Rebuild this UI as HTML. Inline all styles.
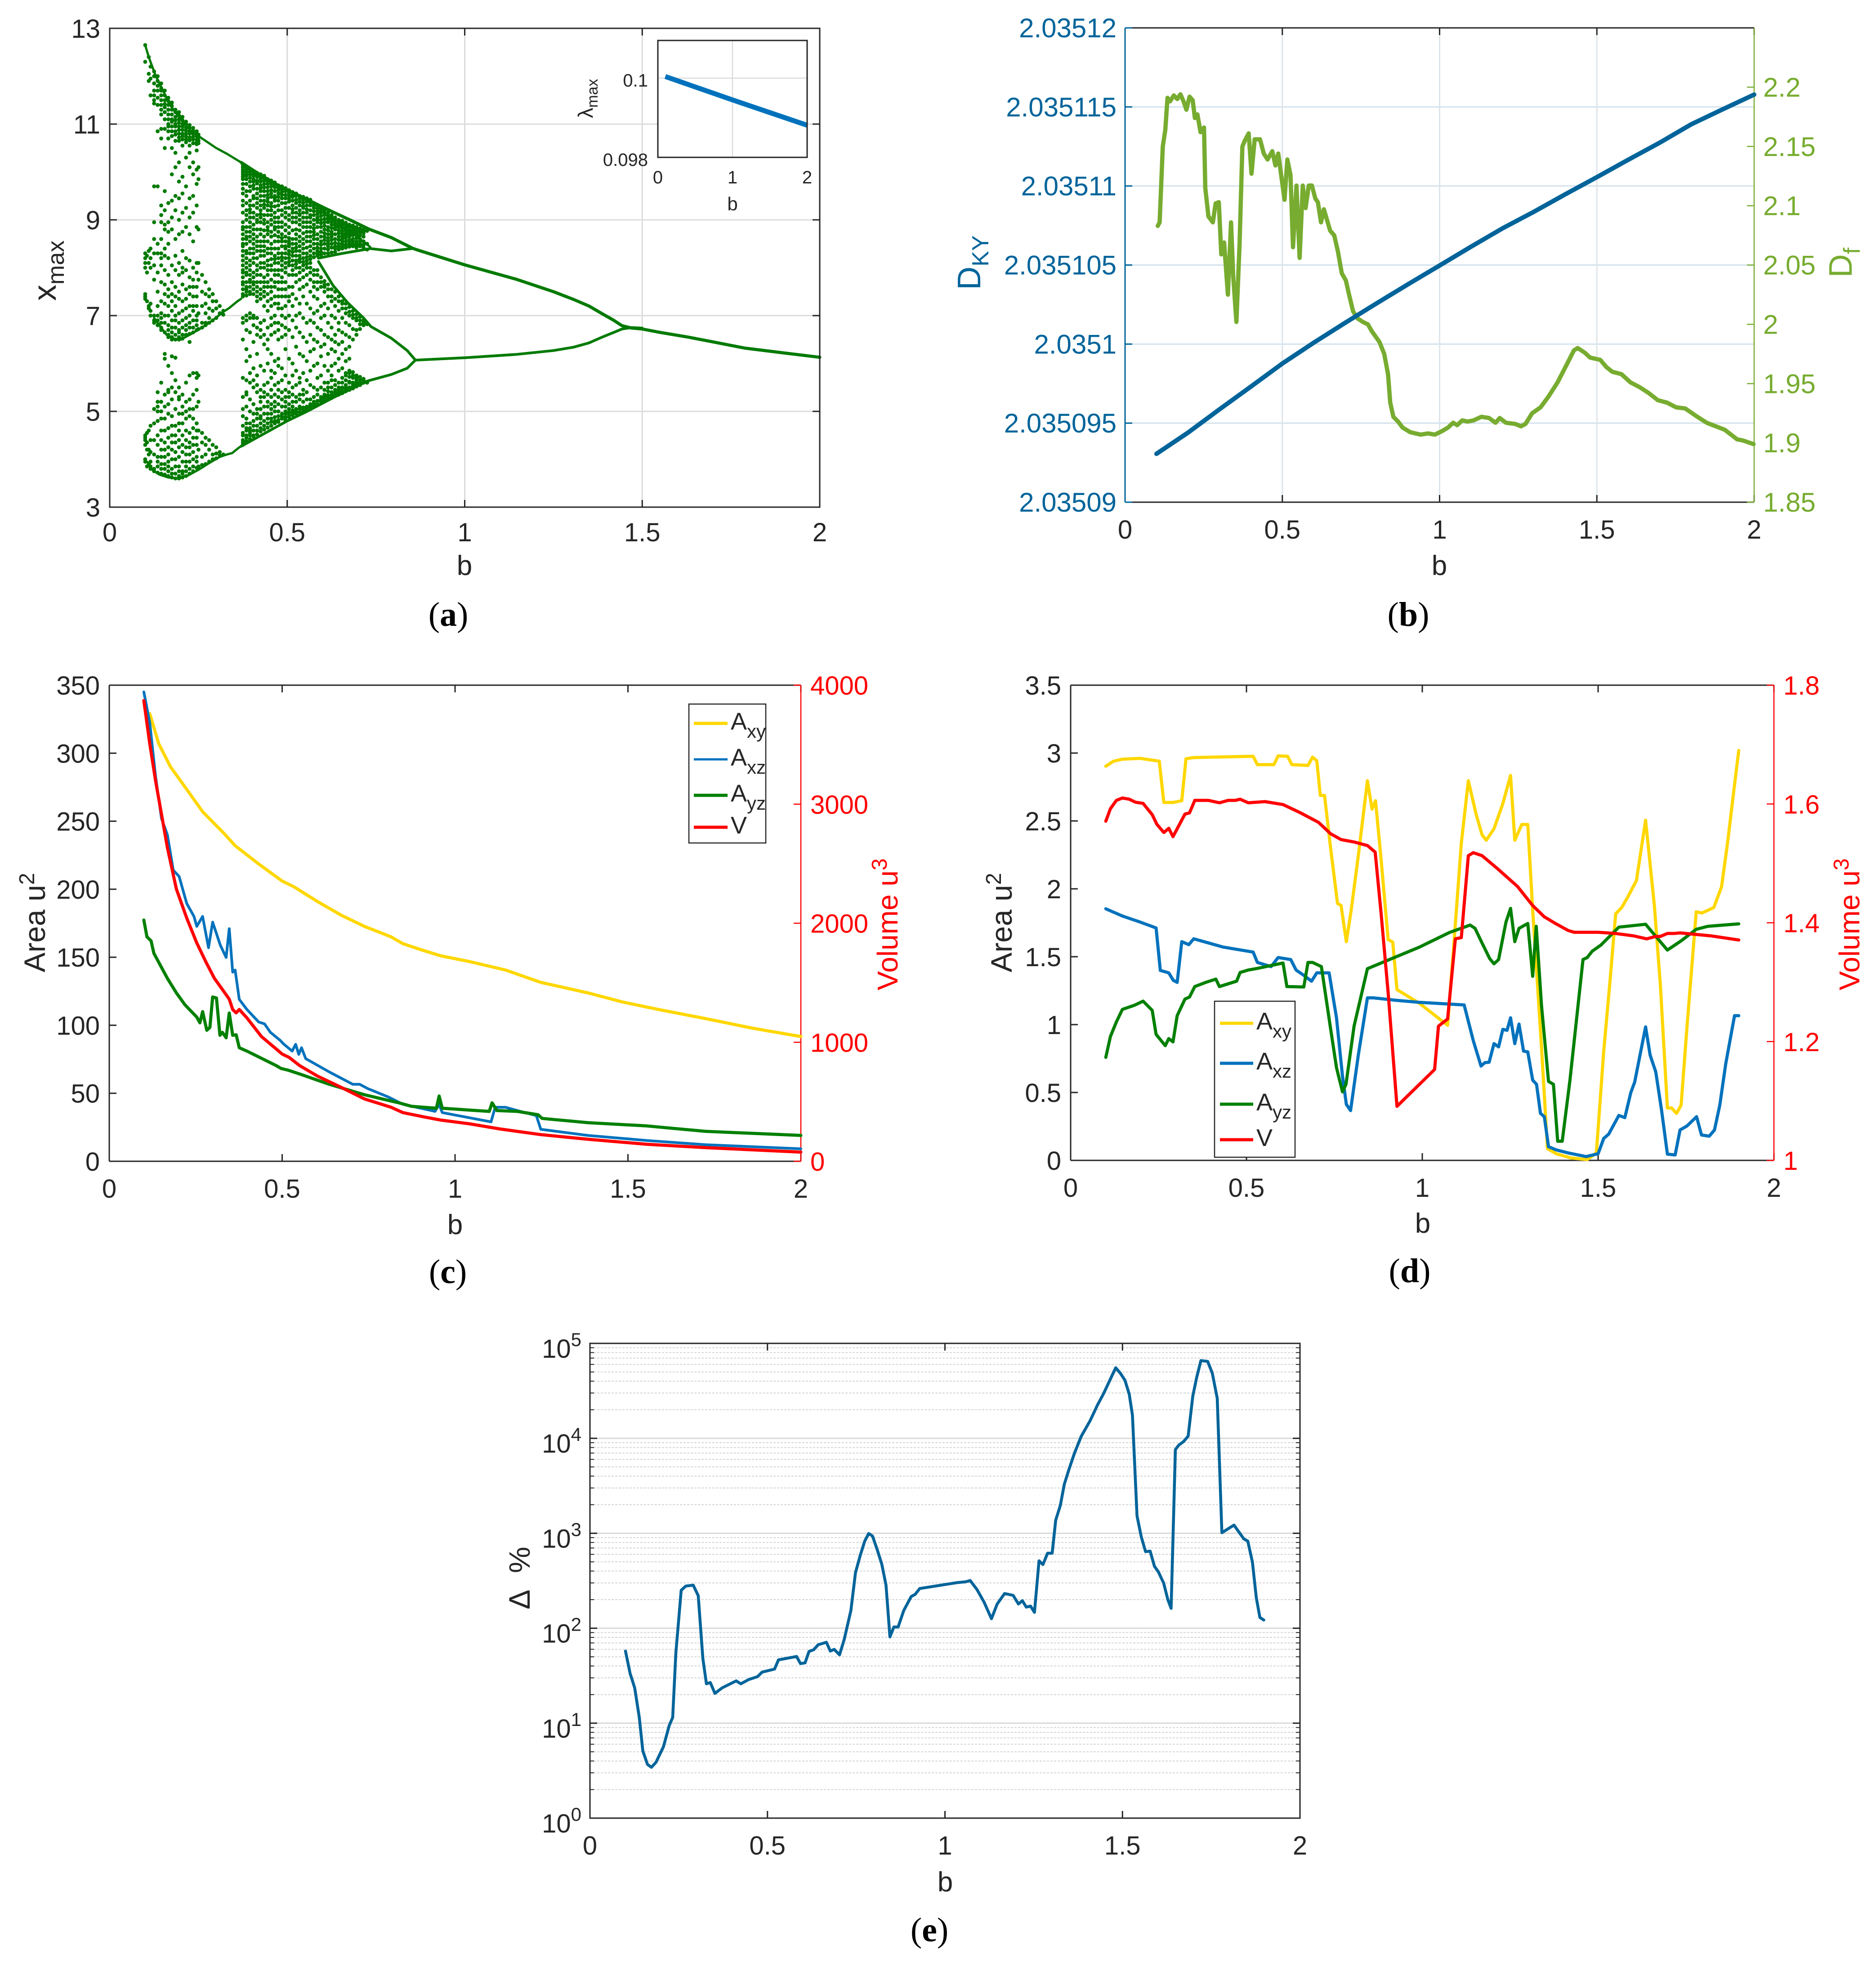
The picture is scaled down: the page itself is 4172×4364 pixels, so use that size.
<!DOCTYPE html>
<html lang="en">
<head>
<meta charset="utf-8">
<title>Dynamics charts panels a-e</title>
<style>
html,body{margin:0;padding:0;background:#fff;}
svg{display:block;font-family:"Liberation Sans",sans-serif;}
</style>
</head>
<body>
<svg id="fig" xmlns="http://www.w3.org/2000/svg" width="4172" height="4364" viewBox="0 0 4172 4364"></svg>
<script>
// ---------- Panel (a) data ----------
const aTicksX = [0, 0.5, 1, 1.5, 2];
const aTicksY = [3, 5, 7, 9, 11, 13];
const scatterB = [.10,.105,.11,.115,.125,.135,.145,.155,.165,.175,.185,.195,.205,.215,.225,.235,.245,.25,.26,.27,.28,.29,.30,.31,.32,
.375,.385,.395,.405,.415,.425,.435,.445,.455,.465,.475,.485,.495,.505,.515,.525,.535,.545,.555,.565,.575,.585,.595,.605,.615,.625,.635,.645,.655,.665,.675,.685,.695,.705,.715,.725];
const scatterX = [
[12.65,12.3,8.3,8.2,8.1,8.0,7.45,7.4,7.35,4.5,4.45,4.4,4.3,4.0,3.95],
[8.25,7.9,7.3,4.35,4.55],
[12.4,12.05,11.9,8.35,8.1,7.2,7.15,4.1,3.9,4.6,4.2],
[12.2,11.95,11.6,8.4,8.0,7.1,7.0,3.85,3.8,4.7,4.4,4.15],
[12.1,11.85,11.7,11.5,8.6,8.3,8.05,7.75,7.0,6.9,6.85,5.05,4.75,4.4,4.1,3.8,3.75],
[12.0,11.8,11.55,11.4,9.7,8.5,8.3,7.9,7.5,7.0,6.8,5.4,5.2,5.1,4.8,4.5,4.05,3.85,3.72],
[11.85,11.7,11.5,11.3,9.3,9.1,8.95,8.6,8.3,8.05,7.7,7.3,6.95,6.75,6.7,5.6,5.2,5.0,4.85,4.4,4.2,3.9,3.7],
[11.7,11.5,11.35,11.1,10.9,9.6,9.2,8.9,8.8,8.25,7.95,7.65,7.25,6.85,6.65,6.2,6.1,5.35,5.1,4.6,4.35,4.05,3.8,3.68],
[11.55,11.4,11.2,11.0,10.7,9.35,8.95,8.75,8.2,7.85,7.55,7.2,6.8,6.6,6.55,5.95,5.45,5.15,4.95,4.65,4.25,3.95,3.75,3.65],
[11.45,11.3,11.1,10.95,10.75,10.5,9.95,9.4,9.05,8.8,8.05,7.7,7.45,7.1,6.75,6.55,6.5,6.15,5.8,5.25,4.9,4.5,4.2,3.8,3.62],
[11.3,11.15,11.0,10.85,10.4,10.1,9.5,9.2,8.6,8.25,7.95,7.6,7.2,6.9,6.6,6.5,6.12,5.65,5.05,4.7,4.35,4.0,3.7,3.6],
[11.25,11.1,10.95,10.8,10.65,10.2,9.8,9.45,9.0,8.7,8.1,7.85,7.35,7.05,6.7,6.55,6.5,5.5,5.25,4.95,4.6,4.25,3.85,3.65,3.6],
[11.15,11.0,10.88,10.75,10.55,9.9,9.55,9.15,8.75,8.35,8.0,7.65,7.3,6.9,6.6,6.52,5.35,5.1,4.75,4.5,4.15,3.75,3.62],
[11.05,10.92,10.8,10.68,10.3,9.7,9.25,8.85,8.2,7.95,7.55,7.15,6.8,6.6,5.6,5.2,4.85,4.4,4.1,3.85,3.65],
[10.98,10.85,10.72,10.4,10.1,9.45,9.05,8.7,8.15,7.8,7.45,7.0,6.75,6.62,6.45,5.75,5.25,4.9,4.55,4.25,3.95,3.7],
[10.92,10.8,10.68,10.2,9.95,9.5,9.15,8.55,8.0,7.75,7.4,7.1,6.75,6.65,5.8,5.35,5.05,4.65,4.3,4.0,3.75],
[10.85,10.75,10.62,10.45,10.05,9.75,9.3,8.85,8.1,7.9,7.6,7.2,6.8,6.7,5.8,5.7,5.45,5.1,4.75,4.45,4.05,3.82],
[10.72,10.6,10.1,9.85,8.8,8.1,7.75,7.05,6.72,5.75,5.2,4.6,4.2,3.85],
[7.85,7.5,7.2,6.85,6.75,4.55,4.35,4.05,3.88],
[7.7,7.45,7.25,7.05,6.85,6.8,4.45,4.3,4.1,3.9],
[7.55,7.4,7.15,6.95,6.85,4.4,4.2,3.95],
[7.45,7.3,7.1,6.9,4.3,4.1,4.0],
[7.3,7.15,6.95,4.25,4.12,4.02],
[7.2,7.05,4.15,4.08],
[7.1,7.02,4.1],
[10.15,10.05,9.95,9.9,9.75,9.4,9.3,9.15,8.95,8.7,8.6,8.45,8.25,8.15,7.95,7.8,7.65,7.45,7.4,6.95,6.85,6.5,5.7,5.3,5.05,4.9,4.55,4.4,4.35],
[10.1,10.0,9.92,9.85,9.6,9.35,9.2,9.0,8.85,8.65,8.5,8.35,8.2,8.0,7.85,7.7,7.55,7.42,7.0,6.9,6.3,6.05,5.65,5.35,5.1,4.85,4.65,4.5,4.38],
[10.05,9.95,9.88,9.7,9.4,9.22,9.05,8.95,8.75,8.55,8.3,8.15,7.95,7.75,7.6,7.5,7.05,6.65,6.15,5.6,5.25,5.0,4.75,4.55,4.42],
[10.0,9.92,9.8,9.65,9.3,9.15,8.9,8.7,8.5,8.4,8.1,7.9,7.65,7.55,7.45,7.0,6.8,6.45,5.9,5.5,5.15,4.95,4.7,4.5,4.47],
[9.98,9.9,9.82,9.55,9.35,9.1,8.95,8.55,8.35,8.2,7.95,7.7,7.5,7.3,6.95,6.6,6.2,5.75,5.4,5.05,4.85,4.6,4.52],
[9.95,9.86,9.72,9.6,9.4,9.2,9.05,8.8,8.45,8.25,8.0,7.85,7.55,7.35,6.85,6.55,5.95,5.45,5.2,4.9,4.75,4.58],
[9.92,9.82,9.68,9.5,9.25,9.0,8.65,8.55,8.35,8.1,7.8,7.6,7.4,7.2,6.9,6.4,5.85,5.55,5.3,4.95,4.8,4.62],
[9.85,9.75,9.6,9.45,9.3,9.1,8.85,8.7,8.4,8.15,7.95,7.7,7.45,7.1,6.75,6.3,6.0,5.6,5.35,5.1,4.85,4.66],
[9.82,9.7,9.55,9.35,9.2,9.0,8.75,8.5,8.3,8.05,7.75,7.5,7.2,6.95,6.6,6.2,5.7,5.45,5.15,4.95,4.7],
[9.78,9.68,9.5,9.4,9.15,8.95,8.8,8.55,8.25,8.1,7.85,7.6,7.25,7.0,6.65,6.05,5.8,5.55,5.2,5.0,4.75],
[9.72,9.62,9.48,9.3,9.05,8.85,8.65,8.4,8.2,7.95,7.7,7.4,7.15,6.85,6.5,6.1,5.95,5.6,5.3,5.0,4.78],
[9.7,9.58,9.45,9.2,8.95,8.7,8.55,8.3,8.15,8.05,7.8,7.55,7.15,6.8,6.55,5.9,5.65,5.25,4.95,4.85],
[9.66,9.52,9.35,9.15,8.9,8.65,8.45,8.3,8.1,7.9,7.55,7.2,6.95,6.6,6.3,5.75,5.45,5.1,4.95,4.82],
[9.62,9.5,9.38,9.1,8.85,8.55,8.45,8.35,8.2,8.05,7.6,7.3,7.0,6.7,6.1,5.6,5.4,5.15,4.98,4.88],
[9.58,9.48,9.3,9.15,8.95,8.6,8.4,8.25,8.05,7.85,7.45,7.2,6.9,6.55,6.0,5.75,5.5,5.2,5.02,4.92],
[9.55,9.42,9.25,9.05,8.8,8.7,8.5,8.35,8.15,8.0,7.7,7.35,7.0,6.75,6.35,5.85,5.55,5.3,5.05,4.95],
[9.5,9.38,9.2,9.1,8.9,8.65,8.45,8.25,8.12,7.9,7.55,7.25,7.05,6.65,6.2,5.7,5.6,5.35,5.1,4.98],
[9.48,9.35,9.25,9.05,8.85,8.6,8.4,8.2,8.05,7.8,7.6,7.4,6.95,6.55,6.15,5.8,5.45,5.2,5.0],
[9.45,9.3,9.15,8.95,8.75,8.55,8.3,8.15,8.0,7.85,7.65,7.25,6.85,6.45,6.05,5.65,5.4,5.1,5.02],
[9.42,9.3,9.2,9.05,8.85,8.65,8.45,8.25,8.18,8.0,7.75,7.5,7.15,6.9,6.6,6.25,5.85,5.55,5.25,5.08],
[9.35,9.25,9.1,8.9,8.75,8.6,8.4,8.22,7.95,7.7,7.4,7.05,6.85,6.5,6.3,5.95,5.5,5.3,5.12],
[9.3,9.18,9.05,8.95,8.7,8.5,8.35,8.25,7.85,7.55,7.35,7.1,6.75,6.45,6.0,5.7,5.45,5.15],
[9.24,9.15,9.0,8.85,8.75,8.55,8.4,8.27,7.8,7.6,7.2,6.95,6.7,6.35,6.15,5.75,5.5,5.2],
[9.2,9.1,8.95,8.8,8.65,8.5,8.3,7.72,7.5,7.25,7.0,6.6,6.4,5.95,5.6,5.35,5.22],
[9.15,9.05,8.95,8.85,8.7,8.55,8.45,8.3,7.65,7.4,7.15,6.85,6.55,6.2,5.85,5.6,5.42,5.25],
[9.1,9.02,8.9,8.75,8.65,8.5,8.32,7.55,7.3,7.0,6.75,6.5,6.3,5.95,5.75,5.5,5.28],
[9.05,8.98,8.88,8.8,8.6,8.45,8.33,7.5,7.2,6.95,6.6,6.45,6.25,6.0,5.65,5.45,5.32],
[9.0,8.92,8.85,8.72,8.65,8.5,8.38,7.4,7.1,6.85,6.7,6.4,6.1,5.85,5.6,5.4,5.35],
[8.98,8.9,8.82,8.7,8.6,8.5,8.4,7.3,7.15,6.95,6.65,6.45,6.2,5.9,5.7,5.5,5.38],
[8.94,8.85,8.78,8.68,8.55,8.42,7.25,7.05,6.85,6.6,6.3,6.05,5.8,5.65,5.55,5.42],
[8.9,8.84,8.75,8.65,8.52,8.44,7.18,7.0,6.8,6.55,6.35,6.1,5.85,5.72,5.6,5.45],
[8.88,8.8,8.72,8.6,8.5,7.1,6.95,6.72,6.5,5.82,5.7,5.6,5.48],
[8.85,8.77,8.68,8.55,8.47,7.03,6.9,6.7,6.6,5.75,5.65,5.52],
[8.82,8.68,8.6,8.45,6.98,6.82,6.72,5.72,5.6,5.55],
[8.8,8.65,8.55,8.42,6.9,6.8,5.68,5.6],
[8.77,8.5,8.38,6.82,5.62,5.6]
];
const scatterExtraB = [.105,.115,.125,.135,.145,.155,.165,.175,.185,.195,.205,.215,.225,.235,.245,.25,
.375,.385,.395,.405,.415,.425,.435,.445,.455,.465,.475,.485,.495,.505,.515,.525,.535,.545,.555,.565,.575,.585,.595,.605,.615,.625,.635,.645,.655,.665,.675,.685,.695,.705,.715];
const scatterExtraX = [
[4.2,3.85],
[8.2,7.25,3.95],
[12.0,11.6,11.43,9.7,8.95],
[11.9,11.7,10.85,7.2,6.9,5.0,4.3,3.95],
[11.75,11.6,11.4,11.2,10.9,10.7,8.2,7.05,6.85,4.6,4.05,3.8],
[11.6,11.42,11.25,10.5,8.4,7.45,7.0,4.85,4.2,3.9],
[11.48,11.3,11.1,10.95,10.85,8.5,7.4,7.0,6.7,5.4,4.45,4.1,3.85],
[11.38,11.2,11.05,10.85,7.3,6.9,6.65,5.5,4.7,4.35,4.0,3.7],
[11.25,11.08,10.95,10.78,10.65,7.4,7.0,6.75,5.4,4.5,4.15,3.85],
[11.18,11.03,10.88,10.72,7.5,6.85,6.65,5.3,4.75,4.4,4.05,3.75],
[11.08,10.95,10.8,10.68,7.9,7.1,6.75,4.95,4.3,3.95,3.7],
[11.0,10.86,10.74,10.62,7.35,6.95,6.7,5.0,4.6,4.25,3.95,3.75],
[10.92,10.8,10.66,10.55,7.6,7.2,6.85,5.05,4.35,4.1,3.8],
[10.86,10.74,10.6,7.6,7.2,6.9,4.85,4.45,4.15,3.85],
[10.8,10.68,10.58,7.4,7.0,6.9,4.6,4.3,3.95],
[10.78,10.66],
[10.1,10.0,9.85,9.65,9.55,8.85,8.8,8.5,8.35,8.05,7.9,7.7,7.55,4.7,4.5,4.3],
[10.05,9.95,9.75,9.5,9.1,8.75,8.6,8.3,8.1,7.9,7.6,7.5,6.7,5.4,4.75,4.6,4.45],
[10.0,9.8,9.6,9.3,9.15,8.85,8.65,8.4,8.05,7.85,7.7,7.45,6.95,5.8,4.65,4.5,4.6],
[9.95,9.85,9.72,9.5,9.45,9.05,8.8,8.6,8.3,8.2,7.8,7.7,6.95,5.65,4.8,4.6],
[9.94,9.76,9.65,9.45,9.25,9.0,8.8,8.65,8.45,8.05,7.85,7.6,7.4,6.75,5.55,4.95,4.7],
[9.9,9.8,9.66,9.5,9.3,9.12,8.95,8.7,8.55,8.35,8.1,7.7,7.45,6.7,5.3,5.05,4.85,4.65],
[9.88,9.75,9.6,9.4,9.32,9.1,8.92,8.78,8.45,8.25,8.0,7.7,7.5,6.6,5.4,5.1,4.7],
[9.8,9.68,9.52,9.38,9.2,8.95,8.78,8.55,8.3,8.05,7.85,7.6,7.3,6.5,5.2,4.95,4.75],
[9.76,9.62,9.48,9.28,9.1,8.9,8.65,8.4,8.18,7.95,7.6,7.35,6.8,5.85,5.3,5.05,4.85,4.78],
[9.73,9.6,9.45,9.28,9.05,8.85,8.68,8.4,8.18,7.95,7.7,7.4,6.85,5.35,5.1,4.88,4.8],
[9.67,9.55,9.4,9.2,8.95,8.75,8.55,8.3,8.1,7.85,7.55,7.25,6.7,5.45,5.15,4.9,4.82],
[9.64,9.52,9.35,9.1,8.85,8.62,8.45,8.22,7.95,7.7,7.4,7.0,5.4,5.1,4.9],
[9.6,9.45,9.25,9.05,8.78,8.55,8.4,8.2,8.0,7.7,7.4,6.75,5.3,5.2,5.0,4.88],
[9.56,9.44,9.25,9.0,8.72,8.62,8.5,8.28,8.12,7.85,7.4,5.3,5.05,4.92],
[9.52,9.4,9.22,9.05,8.78,8.5,8.33,8.15,7.95,7.6,5.35,5.1,4.97],
[9.5,9.35,9.15,8.95,8.6,8.42,8.25,8.08,7.85,5.2,5.0],
[9.45,9.3,9.12,9.0,8.78,8.55,8.35,8.18,8.0,7.75,5.25,5.05],
[9.42,9.28,9.15,8.95,8.72,8.5,8.3,8.12,7.95,5.35,5.08,5.02],
[9.38,9.22,9.05,8.85,8.65,8.42,8.22,8.08,5.25,5.05],
[9.36,9.1,8.95,8.75,8.55,8.35,8.1,7.9,5.15,5.12],
[9.3,9.18,9.0,8.82,8.68,8.5,8.3,7.85,7.6,5.2,5.18],
[9.24,9.12,9.0,8.85,8.6,8.42,8.3,7.95,7.7,5.35,5.22],
[9.2,9.08,8.93,8.65,8.48,8.33,7.7,5.3,5.25],
[9.15,9.02,8.88,8.72,8.58,8.4,7.65,7.6,5.45,5.32,5.28],
[9.1,9.0,8.78,8.62,8.5,8.38,7.55,5.5,5.34,5.3],
[9.06,8.96,8.83,8.7,8.58,8.42,7.4,5.65,5.4,5.34],
[9.0,8.92,8.83,8.7,8.52,8.4,7.35,5.55,5.4,5.36],
[8.96,8.88,8.78,8.58,8.44,7.3,5.5,5.45,5.4],
[8.93,8.85,8.76,8.65,8.55,8.45,7.25,5.6,5.48,5.42],
[8.9,8.82,8.72,8.62,8.48,7.15,5.75,5.5,5.46],
[8.87,8.78,8.7,8.58,8.48,7.08,5.8,5.62,5.5],
[8.84,8.76,8.68,8.55,8.45,7.02,5.75,5.55,5.52],
[8.82,8.72,8.62,8.5,8.42,6.95,5.7,5.6,5.56],
[8.78,8.74,8.55,8.5,6.9,5.66,5.6],
[8.76,8.72,8.48,6.85,5.64]
];
const branchTop1B = [.10,.11,.12,.13,.14,.15,.17,.19,.21,.23,.25,.27,.30,.33,.37];
const branchTop1X = [12.65,12.4,12.2,12.0,11.85,11.7,11.4,11.2,11.0,10.85,10.75,10.65,10.5,10.38,10.2];
const branchLobeLowB = [.125,.14,.16,.18,.2,.23,.26,.29,.32,.335,.36,.37];
const branchLobeLowX = [6.95,6.8,6.6,6.52,6.5,6.62,6.75,6.9,7.08,7.15,7.3,7.35];
const branchBottomB = [.105,.12,.14,.165,.19,.22,.25,.28,.31,.33,.345,.365,.37];
const branchBottomX = [3.95,3.78,3.68,3.62,3.6,3.66,3.78,3.92,4.05,4.1,4.13,4.25,4.27];
const branchTop2B = [.37,.42,.474,.542,.611,.679,.729,.793,.852,.863,1,1.145,1.25,1.306,1.35,1.387,1.42,1.443,1.47,1.5,1.55,1.63,1.7,1.79,1.9,2];
const branchTop2X = [10.2,9.96,9.72,9.475,9.226,8.99,8.81,8.63,8.41,8.38,8.06,7.76,7.5,7.34,7.2,7.04,6.9,6.79,6.74,6.72,6.65,6.55,6.45,6.32,6.22,6.13];
const branchLoopInnerB = [.588,.656,.734,.793,.852];
const branchLoopInnerX = [8.2,8.3,8.4,8.35,8.4];
const branchLoopWedgeB = [.679,.734];
const branchLoopWedgeX = [8.76,8.43];
const branchLowerB = [.588,.629,.67,.715,.736,.793,.838,.861,1,1.145,1.25,1.306,1.35,1.387,1.42,1.443,1.47,1.5];
const branchLowerX = [8.13,7.63,7.27,6.95,6.77,6.53,6.27,6.07,6.12,6.19,6.27,6.34,6.43,6.55,6.65,6.72,6.75,6.74];
const branchBottom2B = [.37,.5,.556,.633,.729,.793,.838,.861];
const branchBottom2X = [4.27,4.8,5.0,5.3,5.64,5.77,5.9,6.07];
const insetB = [0.1, 1, 2];
const insetLambda = [0.10004, 0.09945, 0.09881];
const insetTicksX = [0, 1, 2];
const insetTicksY = [0.098, 0.1];

// ---------- Panel (b) data ----------
const bTicksX = [0, 0.5, 1, 1.5, 2];
const bTicksLeft = [2.03509, 2.035095, 2.0351, 2.035105, 2.03511, 2.035115, 2.03512];
const bTicksLeftLabels = ["2.03509","2.035095","2.0351","2.035105","2.03511","2.035115","2.03512"];
const bTicksRight = [1.85, 1.9, 1.95, 2, 2.05, 2.1, 2.15, 2.2];
const dkyB = [.1,.2,.3,.4,.5,.6,.7,.8,.9,1,1.1,1.2,1.3,1.4,1.5,1.6,1.7,1.8,1.9,2];
const dkyValues = [2.03509306,2.0350944,2.03509587,2.03509731,2.03509877,2.03510009,2.03510135,2.03510258,2.03510379,2.03510497,2.03510616,2.03510732,2.03510837,2.03510948,2.03511056,2.03511166,2.03511274,2.0351139,2.03511485,2.03511578];
const dfB = [.104,.11,.12,.128,.135,.143,.155,.166,.176,.186,.195,.205,.215,.222,.23,.24,.251,.255,.265,.279,.288,.298,.306,.315,.327,.337,.344,.354,.364,.373,.381,.393,.402,.412,.429,.441,.453,.468,.478,.487,.507,.516,.526,.534,.545,.555,.565,.574,.584,.594,.605,.613,.623,.632,.652,.665,.677,.689,.702,.714,.725,.739,.756,.772,.785,.809,.824,.836,.843,.853,.868,.882,.907,.94,.963,.985,1.008,1.027,1.043,1.056,1.072,1.089,1.108,1.133,1.157,1.178,1.191,1.211,1.24,1.259,1.273,1.294,1.321,1.346,1.375,1.404,1.427,1.439,1.462,1.478,1.511,1.53,1.549,1.578,1.607,1.636,1.665,1.694,1.723,1.752,1.781,1.814,1.849,1.878,1.907,1.946,1.965,1.998];
const dfValues = [2.083,2.086,2.15,2.164,2.191,2.188,2.193,2.19,2.194,2.188,2.181,2.192,2.189,2.174,2.177,2.162,2.166,2.115,2.091,2.086,2.102,2.103,2.059,2.069,2.025,2.086,2.04,2.002,2.067,2.15,2.155,2.161,2.127,2.156,2.156,2.144,2.139,2.146,2.134,2.144,2.105,2.139,2.126,2.065,2.117,2.056,2.117,2.098,2.117,2.117,2.106,2.103,2.086,2.097,2.079,2.075,2.061,2.043,2.037,2.023,2.011,2.005,2.002,2,1.994,1.985,1.975,1.958,1.934,1.922,1.918,1.913,1.909,1.907,1.908,1.907,1.91,1.913,1.917,1.915,1.919,1.918,1.919,1.922,1.921,1.917,1.921,1.917,1.916,1.914,1.916,1.925,1.93,1.939,1.951,1.966,1.978,1.98,1.976,1.972,1.97,1.964,1.96,1.958,1.951,1.947,1.942,1.936,1.934,1.93,1.929,1.923,1.917,1.914,1.911,1.903,1.902,1.899];

// ---------- Panel (c) data ----------
const cTicksX = [0, 0.5, 1, 1.5, 2];
const cTicksLeft = [0, 50, 100, 150, 200, 250, 300, 350];
const cTicksRight = [0, 1000, 2000, 3000, 4000];
const cAxyB = [.117,.143,.177,.228,.27,.33,.364,.432,.5,.534,.602,.67,.738,.815,.849,.908,.959,1.044,1.146,1.248,1.384,1.486,1.588,1.724,1.861,2];
const cAxyValues = [329,307,290,272,257,241.5,232,218.6,206,201.8,191,181,172.7,165,160,155,151,146.7,140.6,131.5,123.8,117,111.6,104.9,97.8,91.7];
const cAxzB = [.1,.117,.134,.151,.168,.185,.202,.224,.245,.253,.27,.287,.299,.321,.338,.347,.357,.364,.376,.398,.432,.449,.466,.495,.503,.529,.539,.548,.556,.568,.636,.704,.724,.747,.806,.849,.942,.954,.963,1.104,1.116,1.146,1.189,1.235,1.248,1.384,1.554,1.724,2];
const cAxzValues = [345,322.5,282.8,252,240,214,209.4,189.5,180,172.7,180,157,175.8,159,149.8,171,139,140.6,119,111.6,102.4,101,94.8,88.7,86.5,81,86,78.6,83.5,75.5,65.7,56.6,56.6,53.5,47.4,41.9,36.7,41.9,35.8,29,39.7,39.7,36.7,33.6,23.5,19,15.3,12.2,9.2];
const cAyzB = [.1,.109,.121,.129,.168,.194,.219,.253,.262,.27,.282,.291,.299,.31,.32,.327,.338,.347,.357,.367,.376,.398,.483,.497,.517,.554,.636,.738,.84,.874,.946,.954,.963,1.044,1.099,1.107,1.121,1.18,1.24,1.252,1.384,1.554,1.724,2];
const cAyzValues = [177.3,165,162,152.9,134.5,123.8,115,106,101.8,110,96.3,98.4,120.8,120,92.6,94.8,90.8,109,92.6,93,83.5,81,70.3,68.2,67,63.9,56.6,48.9,42.8,40.4,39,48,39,37.6,36.7,43,37.3,36.7,34.2,31.5,28.4,26,22,19];
const cVB = [.1,.117,.134,.151,.168,.194,.224,.253,.279,.304,.33,.347,.357,.367,.376,.398,.44,.483,.5,.52,.551,.602,.67,.738,.815,.849,.908,.959,1.044,1.129,1.248,1.384,1.554,1.724,2];
const cVValues = [3870,3510,3196,2917,2637,2288,2043,1834,1677,1537,1432,1362,1275,1247,1275,1205,1048,943,901,873,803,716,622,524,454,409,374,346,314,272,224,185,143,115,77];

// ---------- Panel (d) data ----------
const dTicksX = [0, 0.5, 1, 1.5, 2];
const dTicksLeft = [0, 0.5, 1, 1.5, 2, 2.5, 3, 3.5];
const dTicksRight = [1, 1.2, 1.4, 1.6, 1.8];
const dAxyB = [.1,.122,.147,.198,.252,.265,.291,.316,.328,.35,.451,.519,.531,.578,.59,.617,.629,.675,.688,.7,.71,.722,.739,.759,.769,.784,.798,.818,.844,.857,.867,.883,.903,.916,.928,.992,1.072,1.09,1.111,1.131,1.153,1.17,1.182,1.204,1.229,1.251,1.263,1.283,1.3,1.314,1.339,1.356,1.381,1.423,1.469,1.495,1.516,1.533,1.55,1.567,1.584,1.609,1.635,1.66,1.677,1.697,1.709,1.723,1.736,1.753,1.779,1.795,1.829,1.851,1.868,1.885,1.9];
const dAxyValues = [2.903,2.94,2.955,2.961,2.94,2.636,2.636,2.649,2.958,2.967,2.973,2.976,2.915,2.915,2.979,2.976,2.915,2.909,2.97,2.943,2.688,2.688,2.306,1.892,1.877,1.611,1.846,2.244,2.796,2.587,2.649,2.214,1.626,1.608,1.258,1.157,.995,1.601,2.336,2.796,2.551,2.398,2.358,2.443,2.627,2.835,2.358,2.474,2.474,1.846,.836,.086,.049,.018,.006,.055,.805,1.295,1.816,1.862,1.938,2.061,2.505,1.877,1.295,.386,.386,.346,.407,.989,1.831,1.822,1.862,2.015,2.336,2.704,3.019];
const dAxzB = [.1,.147,.198,.243,.255,.279,.292,.303,.316,.336,.35,.434,.519,.531,.57,.59,.626,.641,.663,.685,.7,.735,.756,.773,.784,.796,.818,.844,.861,.925,.992,1.119,1.145,1.167,1.178,1.19,1.204,1.217,1.229,1.241,1.251,1.263,1.275,1.288,1.3,1.314,1.325,1.336,1.347,1.359,1.381,1.415,1.466,1.5,1.516,1.53,1.559,1.576,1.593,1.604,1.635,1.648,1.664,1.68,1.697,1.719,1.733,1.753,1.78,1.794,1.816,1.831,1.846,1.863,1.888,1.9];
const dAxzValues = [1.853,1.8,1.755,1.712,1.399,1.381,1.326,1.311,1.611,1.589,1.632,1.571,1.534,1.458,1.427,1.494,1.479,1.402,1.363,1.32,1.381,1.381,1.05,.622,.413,.367,.775,1.197,1.197,1.179,1.164,1.145,.882,.695,.72,.723,.86,.836,.965,.958,1.05,.86,1.004,.805,.799,.591,.56,.346,.322,.101,.077,.055,.028,.049,.162,.193,.331,.315,.499,.576,.983,.775,.652,.377,.046,.04,.224,.254,.322,.187,.178,.224,.407,.713,1.066,1.066];
const dAyzB = [.1,.113,.13,.147,.181,.206,.232,.243,.269,.279,.291,.303,.325,.338,.353,.384,.413,.423,.472,.482,.505,.527,.604,.615,.663,.675,.688,.713,.739,.756,.773,.783,.806,.844,.992,1.077,1.136,1.15,1.17,1.192,1.204,1.217,1.238,1.251,1.263,1.275,1.3,1.314,1.324,1.339,1.359,1.373,1.385,1.398,1.42,1.457,1.469,1.483,1.508,1.559,1.635,1.697,1.736,1.779,1.812,1.9];
const dAyzValues = [.759,.912,1.02,1.112,1.142,1.173,1.105,.928,.845,.897,.873,1.066,1.188,1.203,1.28,1.311,1.335,1.28,1.32,1.384,1.402,1.412,1.454,1.28,1.277,1.458,1.458,1.427,.974,.683,.505,.56,.989,1.412,1.571,1.678,1.733,1.709,1.601,1.485,1.448,1.479,1.755,1.856,1.611,1.709,1.745,1.356,1.724,1.142,.582,.56,.141,.141,.591,1.479,1.494,1.54,1.586,1.718,1.739,1.549,1.617,1.702,1.724,1.742];
const dVB = [.1,.113,.13,.147,.167,.184,.206,.232,.245,.265,.279,.291,.325,.338,.353,.392,.423,.448,.468,.482,.505,.553,.604,.654,.705,.739,.769,.806,.844,.866,.883,.903,.928,.959,1.035,1.046,1.072,1.094,1.111,1.131,1.145,1.17,1.212,1.271,1.314,1.347,1.381,1.415,1.432,1.5,1.55,1.601,1.638,1.664,1.677,1.697,1.716,1.733,1.821,1.9];
const dVValues = [1.571,1.592,1.606,1.61,1.608,1.603,1.601,1.582,1.566,1.552,1.559,1.545,1.583,1.585,1.606,1.606,1.602,1.606,1.606,1.608,1.602,1.604,1.599,1.585,1.569,1.55,1.54,1.536,1.53,1.519,1.415,1.282,1.091,1.109,1.153,1.226,1.238,1.373,1.375,1.513,1.518,1.513,1.492,1.461,1.429,1.41,1.398,1.387,1.384,1.384,1.382,1.378,1.373,1.377,1.377,1.382,1.382,1.383,1.378,1.371];

// ---------- Panel (e) data ----------
const eTicksX = [0, 0.5, 1, 1.5, 2];
const eDecades = [0, 1, 2, 3, 4, 5];
const eMinorMultipliers = [2, 3, 4, 5, 6, 7, 8, 9];
const deltaB = [.1,.113,.126,.139,.149,.162,.173,.186,.207,.223,.233,.242,.257,.27,.291,.305,.318,.328,.339,.352,.372,.412,.425,.447,.472,.485,.52,.531,.582,.593,.606,.617,.63,.643,.666,.677,.688,.703,.716,.735,.748,.761,.774,.785,.796,.809,.822,.834,.845,.856,.868,.884,.905,.916,.929,1.034,1.058,1.071,1.09,1.11,1.131,1.147,1.168,1.192,1.207,1.218,1.229,1.241,1.252,1.265,1.276,1.289,1.302,1.312,1.325,1.336,1.349,1.365,1.384,1.409,1.43,1.446,1.481,1.494,1.507,1.519,1.528,1.541,1.553,1.565,1.578,1.59,1.601,1.616,1.628,1.637,1.649,1.659,1.672,1.685,1.698,1.709,1.721,1.74,1.753,1.767,1.78,1.814,1.842,1.853,1.866,1.877,1.887,1.898];
const deltaValues = [57.5,33.5,23.5,11.5,5.1,3.68,3.43,3.87,5.64,9.4,11.5,55.7,251,278,284,220,47.9,26,26.8,20.6,23.5,27.9,26,28.8,30.9,34.5,37.1,46.4,50.4,42.4,43.2,56.9,59.3,67,71.2,57.5,59.9,52.5,75.7,154,385,579,828,994,935,675,473,284,81,103,103,154,216,227,262,302,308,318,256,189,126,180,232,222,180,195,167,171,147,513,468,617,617,1377,1967,3273,4667,7015,10540,15360,22600,29170,55340,48530,40800,29170,17540,1524,916,641,649,449,393,299,199,162,7610,8510,9230,10540,27730,43860,65870,64560,48530,26360,1014,1219,871,828,498,209,130,122];

// ---------- Helpers ----------
const NS = 'http://www.w3.org/2000/svg';
const fig = document.getElementById('fig');
const DARK = '#262626', FS = 58, FSB = 60;

function mk(tag, parent, name, props) {
  const el = document.createElementNS(NS, tag);
  
  
  for (const k in props) el.setAttribute(k, props[k]);
  parent.appendChild(el);
  return el;
}
function scale(d0, d1, r0, r1) { return v => r0 + (v - d0) / (d1 - d0) * (r1 - r0); }
function logScale(e0, e1, r0, r1) { return v => r0 + (Math.log10(v) - e0) / (e1 - e0) * (r1 - r0); }
function line(parent, name, x1, y1, x2, y2, color, w, dash) {
  const p = {x1: x1, y1: y1, x2: x2, y2: y2, stroke: color, 'stroke-width': w};
  if (dash) p['stroke-dasharray'] = dash;
  return mk('line', parent, name, p);
}
function label(parent, name, x, y, str, size, color, anchor) {
  const t = mk('text', parent, name, {x: x, y: y, 'font-size': size, fill: color, 'text-anchor': anchor || 'middle'});
  t.textContent = str;
  return t;
}
function addSpan(t, name, str, size, dy) {
  const s = mk('tspan', t, name, {'font-size': size, dy: dy});
  s.textContent = str;
  return s;
}
function series(parent, name, xs, ys, sx, sy, color, w) {
  let d = '';
  for (let i = 0; i < xs.length; i++) d += (i ? 'L' : 'M') + sx(xs[i]).toFixed(1) + ' ' + sy(ys[i]).toFixed(1);
  return mk('path', parent, name, {d: d, fill: 'none', stroke: color, 'stroke-width': w, 'stroke-linejoin': 'round', 'stroke-linecap': 'round'});
}
function rotLabel(parent, name, x, y, size, color) {
  return mk('text', parent, name, {transform: 'translate(' + x + ' ' + y + ') rotate(-90)', 'font-size': size, fill: color, 'text-anchor': 'middle'});
}
function caption(parent, name, x, y, letter) {
  const t = mk('text', parent, name, {x: x, y: y, 'font-size': 76, fill: '#000', 'text-anchor': 'middle', style: 'font-family:"Liberation Serif",serif'});
  addSpan(t, name + '-open', '(', 76, 0);
  const b = addSpan(t, name + '-letter', letter, 76, 0);
  b.setAttribute('font-weight', 'bold');
  addSpan(t, name + '-close', ')', 76, 0);
}
function xTicks(g, ticks, sx, top, bottom, labelY, gridColor) {
  ticks.forEach(v => {
    const x = sx(v);
    if (gridColor && v > ticks[0] && v < ticks[ticks.length - 1]) line(g, 'x-grid-line', x, top, x, bottom, gridColor, 3);
  });
  ticks.forEach(v => {
    const x = sx(v);
    line(g, 'x-tick-bottom', x, bottom, x, bottom - 16, DARK, 3);
    line(g, 'x-tick-top', x, top, x, top + 16, DARK, 3);
    label(g, 'x-tick-label', x, labelY, String(v), FS, DARK);
  });
}
function legend(parent, name, x0, y0, x1, y1, lineX0, lineX1, textX, rows) {
  const g = mk('g', parent, name, {});
  mk('rect', g, name + '-box', {x: x0, y: y0, width: x1 - x0, height: y1 - y0, fill: '#fff', stroke: DARK, 'stroke-width': 2.5});
  rows.forEach(r => {
    line(g, 'legend-swatch-' + r.key, lineX0, r.y, lineX1, r.y, r.color, r.w || 7);
    const t = mk('text', g, 'legend-entry-' + r.key, {x: textX, y: r.y + 14, 'font-size': 54, fill: DARK});
    addSpan(t, 'legend-main', r.main, 54, 0);
    if (r.sub) addSpan(t, 'legend-sub', r.sub, 42, 18);
  });
}

// ---------- Panel (a) ----------
(function () {
  const g = mk('g', fig, 'panel-a', {});
  const L = 244, R = 1823, T = 63, B = 1128;
  const sx = scale(0, 2, L, R), sy = scale(3, 13, B, T);
  mk('rect', g, 'plot-area', {x: L, y: T, width: R - L, height: B - T, fill: '#fff'});
  aTicksY.forEach(v => { if (v > 3 && v < 13) line(g, 'y-grid-line', L, sy(v), R, sy(v), '#dcdcdc', 3); });
  xTicks(g, aTicksX, sx, T, B, 1204, '#dcdcdc');
  aTicksY.forEach(v => {
    line(g, 'y-tick-left', L, sy(v), L + 16, sy(v), DARK, 3);
    line(g, 'y-tick-right', R, sy(v), R - 16, sy(v), DARK, 3);
    label(g, 'y-tick-label', 223, sy(v) + 21, String(v), FS, DARK, 'end');
  });
  const dots = mk('g', g, 'attractor-points', {fill: '#007a00'});
  scatterB.forEach((b, i) => {
    scatterX[i].forEach(x => {
      mk('circle', dots, 'attractor-point', {cx: sx(b).toFixed(1), cy: sy(x).toFixed(1), r: 4.4});
    });
  });
  scatterExtraB.forEach((b, i) => {
    scatterExtraX[i].forEach(x => {
      mk('circle', dots, 'attractor-point', {cx: sx(b).toFixed(1), cy: sy(x).toFixed(1), r: 4.4});
    });
  });
  [[branchTop1B, branchTop1X, 5], [branchLobeLowB, branchLobeLowX, 5], [branchBottomB, branchBottomX, 5], [branchTop2B, branchTop2X, 7], [branchLoopInnerB, branchLoopInnerX, 6], [branchLoopWedgeB, branchLoopWedgeX, 5], [branchLowerB, branchLowerX, 6], [branchBottom2B, branchBottom2X, 6]].forEach(p => {
    series(g, 'bifurcation-branch', p[0], p[1], sx, sy, '#007a00', p[2]);
  });
  mk('rect', g, 'axes-box', {x: L, y: T, width: R - L, height: B - T, fill: 'none', stroke: DARK, 'stroke-width': 3});
  label(g, 'x-axis-title', 1033, 1279, 'b', 62, DARK);
  const yt = rotLabel(g, 'y-axis-title', 124, 602, 72, DARK);
  addSpan(yt, 'y-title-main', 'x', 72, 0);
  addSpan(yt, 'y-title-sub', 'max', 52, 18);
  caption(g, 'caption-a', 997, 1392, 'a');
  // inset
  const ig = mk('g', g, 'lambda-inset', {});
  const iL = 1463, iR = 1795, iT = 90, iB = 350;
  const ix = scale(0, 2, iL, iR), iy = scale(0.098, 0.10095, iB, iT);
  mk('rect', ig, 'inset-plot-area', {x: iL, y: iT, width: iR - iL, height: iB - iT, fill: '#fff'});
  line(ig, 'inset-grid-x', ix(1), iT, ix(1), iB, '#dcdcdc', 2.5);
  line(ig, 'inset-grid-y', iL, iy(0.1), iR, iy(0.1), '#dcdcdc', 2.5);
  series(ig, 'lambda-max-line', insetB, insetLambda, ix, iy, '#0072BD', 11).setAttribute('stroke-linecap', 'butt');
  mk('rect', ig, 'inset-box', {x: iL, y: iT, width: iR - iL, height: iB - iT, fill: 'none', stroke: DARK, 'stroke-width': 3});
  insetTicksX.forEach(v => label(ig, 'inset-x-tick-label', ix(v), 408, String(v), 40, DARK));
  insetTicksY.forEach(v => label(ig, 'inset-y-tick-label', 1441, iy(v) + 19, String(v), 40, DARK, 'end'));
  label(ig, 'inset-x-title', ix(1), 468, 'b', 42, DARK);
  const lt = rotLabel(ig, 'inset-y-title', 1318, 219, 46, DARK);
  addSpan(lt, 'inset-title-main', 'λ', 46, 0);
  addSpan(lt, 'inset-title-sub', 'max', 34, 11);
})();

// ---------- Panel (b) ----------
(function () {
  const g = mk('g', fig, 'panel-b', {});
  const L = 2502, R = 3901, T = 62, B = 1117;
  const BLUE = '#00649a', GREEN = '#77ac30';
  const sx = scale(0, 2, L, R), syL = scale(2.03509, 2.03512, B, T), syR = scale(1.85, 2.25, B, T);
  bTicksLeft.forEach((v, i) => {
    if (i > 0 && i < bTicksLeft.length - 1) line(g, 'y-grid-line', L, syL(v), R, syL(v), '#d3e2ec', 3);
  });
  xTicks(g, bTicksX, sx, T, B, 1198, '#dde5ea');
  line(g, 'top-axis', L, T, R, T, DARK, 3);
  line(g, 'bottom-axis', L, B, R, B, DARK, 3);
  line(g, 'left-axis', L, T, L, B, BLUE, 3);
  line(g, 'right-axis', R, T, R, B, GREEN, 2.5);
  bTicksLeft.forEach((v, i) => {
    line(g, 'left-tick', L, syL(v), L + 16, syL(v), BLUE, 3);
    label(g, 'left-tick-label', 2483, syL(v) + 21, bTicksLeftLabels[i], FSB, BLUE, 'end');
  });
  bTicksRight.forEach(v => {
    line(g, 'right-tick', R, syR(v), R - 16, syR(v), GREEN, 2.5);
    label(g, 'right-tick-label', 3921, syR(v) + 21, String(v), FSB, GREEN, 'start');
  });
  series(g, 'fractal-dimension-line', dfB, dfValues, sx, syR, GREEN, 9.5);
  series(g, 'kaplan-yorke-line', dkyB, dkyValues, sx, syL, BLUE, 10);
  label(g, 'x-axis-title', 3201, 1279, 'b', 62, DARK);
  const yl = rotLabel(g, 'left-axis-title', 2180, 584, 72, BLUE);
  addSpan(yl, 'left-title-main', 'D', 72, 0);
  addSpan(yl, 'left-title-sub', 'KY', 52, 18);
  const yr = rotLabel(g, 'right-axis-title', 4118, 584, 72, GREEN);
  addSpan(yr, 'right-title-main', 'D', 72, 0);
  addSpan(yr, 'right-title-sub', 'f', 52, 18);
  caption(g, 'caption-b', 3132, 1392, 'b');
})();

// ---------- Panel (c) ----------
(function () {
  const g = mk('g', fig, 'panel-c', {});
  const L = 243, R = 1781, T = 1524, B = 2583;
  const RED = '#ff0000';
  const sx = scale(0, 2, L, R), syL = scale(0, 350, B, T), syR = scale(0, 4000, B, T);
  xTicks(g, cTicksX, sx, T, B, 2664, null);
  line(g, 'top-axis', L, T, R, T, DARK, 3);
  line(g, 'bottom-axis', L, B, R, B, DARK, 3);
  line(g, 'left-axis', L, T, L, B, DARK, 3);
  line(g, 'right-axis', R, T, R, B, RED, 2.5);
  cTicksLeft.forEach(v => {
    line(g, 'left-tick', L, syL(v), L + 16, syL(v), DARK, 3);
    label(g, 'left-tick-label', 222, syL(v) + 21, String(v), FS, DARK, 'end');
  });
  cTicksRight.forEach(v => {
    line(g, 'right-tick', R, syR(v), R - 16, syR(v), RED, 2.5);
    label(g, 'right-tick-label', 1802, syR(v) + 21, String(v), FS, RED, 'start');
  });
  series(g, 'area-xy-line', cAxyB, cAxyValues, sx, syL, '#ffd700', 7);
  series(g, 'area-xz-line', cAxzB, cAxzValues, sx, syL, '#0072bd', 6);
  series(g, 'area-yz-line', cAyzB, cAyzValues, sx, syL, '#008000', 7);
  series(g, 'volume-line', cVB, cVValues, sx, syR, RED, 7);
  legend(g, 'legend-c', 1532, 1566, 1703, 1875, 1543, 1618, 1625, [
    {key: 'axy', y: 1609, color: '#ffd700', main: 'A', sub: 'xy', w: 7},
    {key: 'axz', y: 1689, color: '#0072bd', main: 'A', sub: 'xz', w: 5},
    {key: 'ayz', y: 1769, color: '#008000', main: 'A', sub: 'yz', w: 7},
    {key: 'v', y: 1840, color: RED, main: 'V', sub: '', w: 7}
  ]);
  label(g, 'x-axis-title', 1012, 2745, 'b', 62, DARK);
  const yl = rotLabel(g, 'left-axis-title', 100, 2052, 66, DARK);
  addSpan(yl, 'left-title-main', 'Area u', 66, 0);
  addSpan(yl, 'left-title-sup', '2', 48, -24);
  const yr = rotLabel(g, 'right-axis-title', 1996, 2056, 64, RED);
  addSpan(yr, 'right-title-main', 'Volume u', 64, 0);
  addSpan(yr, 'right-title-sup', '3', 48, -24);
  caption(g, 'caption-c', 996, 2854, 'c');
})();

// ---------- Panel (d) ----------
(function () {
  const g = mk('g', fig, 'panel-d', {});
  const L = 2381, R = 3945, T = 1524, B = 2581;
  const RED = '#ff0000';
  const sx = scale(0, 2, L, R), syL = scale(0, 3.5, B, T), syR = scale(1, 1.8, B, T);
  xTicks(g, dTicksX, sx, T, B, 2662, null);
  line(g, 'top-axis', L, T, R, T, DARK, 3);
  line(g, 'bottom-axis', L, B, R, B, DARK, 3);
  line(g, 'left-axis', L, T, L, B, DARK, 3);
  line(g, 'right-axis', R, T, R, B, RED, 2.5);
  dTicksLeft.forEach(v => {
    line(g, 'left-tick', L, syL(v), L + 16, syL(v), DARK, 3);
    label(g, 'left-tick-label', 2360, syL(v) + 21, String(v), FS, DARK, 'end');
  });
  dTicksRight.forEach(v => {
    line(g, 'right-tick', R, syR(v), R - 16, syR(v), RED, 2.5);
    label(g, 'right-tick-label', 3966, syR(v) + 21, String(v), FS, RED, 'start');
  });
  series(g, 'area-xy-line', dAxyB, dAxyValues, sx, syL, '#ffd700', 7);
  series(g, 'area-xz-line', dAxzB, dAxzValues, sx, syL, '#0072bd', 7);
  series(g, 'area-yz-line', dAyzB, dAyzValues, sx, syL, '#008000', 7);
  series(g, 'volume-line', dVB, dVValues, sx, syR, RED, 7);
  legend(g, 'legend-d', 2701, 2227, 2880, 2574, 2713, 2787, 2794, [
    {key: 'axy', y: 2276, color: '#ffd700', main: 'A', sub: 'xy'},
    {key: 'axz', y: 2365, color: '#0072bd', main: 'A', sub: 'xz'},
    {key: 'ayz', y: 2456, color: '#008000', main: 'A', sub: 'yz'},
    {key: 'v', y: 2535, color: RED, main: 'V', sub: ''}
  ]);
  label(g, 'x-axis-title', 3164, 2742, 'b', 62, DARK);
  const yl = rotLabel(g, 'left-axis-title', 2250, 2052, 66, DARK);
  addSpan(yl, 'left-title-main', 'Area u', 66, 0);
  addSpan(yl, 'left-title-sup', '2', 48, -24);
  const yr = rotLabel(g, 'right-axis-title', 4135, 2056, 64, RED);
  addSpan(yr, 'right-title-main', 'Volume u', 64, 0);
  addSpan(yr, 'right-title-sup', '3', 48, -24);
  caption(g, 'caption-d', 3135, 2852, 'd');
})();

// ---------- Panel (e) ----------
(function () {
  const g = mk('g', fig, 'panel-e', {});
  const L = 1312, R = 2891, T = 2988, B = 4044;
  const sx = scale(0, 2, L, R), sy = logScale(0, 5, B, T);
  eDecades.forEach(e => {
    const v = Math.pow(10, e);
    if (e > 0 && e < 5) line(g, 'y-major-grid-line', L, sy(v), R, sy(v), '#d9d9d9', 3);
    if (e < 5) eMinorMultipliers.forEach(m => {
      line(g, 'y-minor-grid-line', L, sy(v * m), R, sy(v * m), '#d4d4d4', 2, '5 3');
      line(g, 'y-minor-tick-left', L, sy(v * m), L + 9, sy(v * m), DARK, 2);
      line(g, 'y-minor-tick-right', R, sy(v * m), R - 9, sy(v * m), DARK, 2);
    });
    line(g, 'y-tick-left', L, sy(v), L + 16, sy(v), DARK, 3);
    line(g, 'y-tick-right', R, sy(v), R - 16, sy(v), DARK, 3);
    const t = mk('text', g, 'y-tick-label', {x: 1293, y: sy(v) + 32, 'font-size': FS, fill: DARK, 'text-anchor': 'end'});
    addSpan(t, 'y-tick-base', '10', FS, 0);
    addSpan(t, 'y-tick-exponent', String(e), 42, -26);
  });
  xTicks(g, eTicksX, sx, T, B, 4125, null);
  series(g, 'delta-line', deltaB, deltaValues, sx, sy, '#00649a', 6.5);
  mk('rect', g, 'axes-box', {x: L, y: T, width: R - L, height: B - T, fill: 'none', stroke: DARK, 'stroke-width': 3});
  label(g, 'x-axis-title', 2102, 4207, 'b', 62, DARK);
  const yt = rotLabel(g, 'y-axis-title', 1178, 3510, 66, DARK);
  addSpan(yt, 'y-title-text', 'Δ\u00A0\u00A0%', 66, 0);
  caption(g, 'caption-e', 2067, 4318, 'e');
})();
</script>
</body>
</html>
